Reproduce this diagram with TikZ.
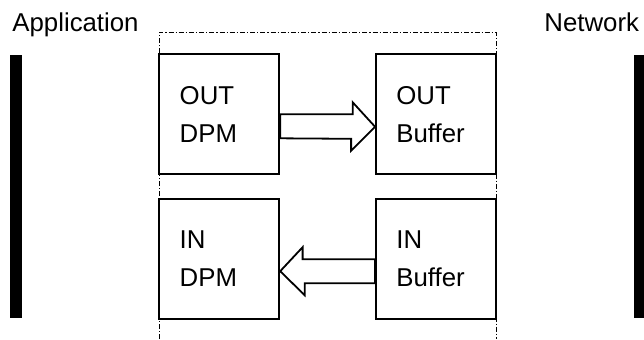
\documentclass[tikz,border=0pt]{standalone}
\usepackage{fontspec}
\setmainfont{Liberation Sans}
\usetikzlibrary{calc}
\begin{document}
\begin{tikzpicture}[x=0.5pt,y=-0.5pt,
  blk/.style={draw,line width=0.9pt,minimum width=60pt,minimum height=60pt,
    inner xsep=10.2pt,text width=39.6pt,align=left,
    font=\fontsize{12.9}{18.85}\selectfont},
  fat/.style={draw,line width=0.9pt,line join=miter},
  frame/.style={line width=0.5pt,dash pattern=on 2.5pt off 1pt on 0.6pt off 1pt},
  bar/.style={fill,minimum width=6pt,minimum height=131.5pt,inner sep=0pt},
  lbl/.style={anchor=base west,inner sep=0pt,font=\fontsize{12.9}{15}\selectfont}]
  \useasboundingbox (0,0) rectangle (644,339);
  % dash-dot frame round the four buffers
  \draw[frame] (159.3,339) -- (159.3,32) -- (496,32) -- (496,339);
  % application side and network side
  \node[bar] (app) at (16,186.5) {};
  \node[bar] (net) at (640,186.5) {};
  \node[lbl] (applbl) at (12,31) {Application};
  \node[lbl] (netlbl) at (544,31) {Network};
  % the four blocks
  \node[blk] (odpm) at (219.3,114.3) {OUT\\DPM};
  \node[blk] (obuf) at (436,114.3) {OUT\\Buffer};
  \node[blk] (idpm) at (219.3,258.7) {IN\\DPM};
  \node[blk] (ibuf) at (436,258.7) {IN\\Buffer};
  % hollow arrows
  \draw[fat] (odpm.east) -- ++(72.5,0) -- ++(0,-12) -- ($(obuf.west)+(0,12.5)$)
    -- ++(-24,24) -- ++(0,-12) -- ($(odpm.east)+(0,24)$) -- cycle;
  \draw[fat] ($(ibuf.west)+(0,0.5)$) -- ++(-72.5,0) -- ++(0,-12) -- ($(idpm.east)+(0,12.5)$)
    -- ++(24.5,24) -- ++(0,-12) -- ($(ibuf.west)+(0,24.5)$) -- cycle;
\end{tikzpicture}
\end{document}
